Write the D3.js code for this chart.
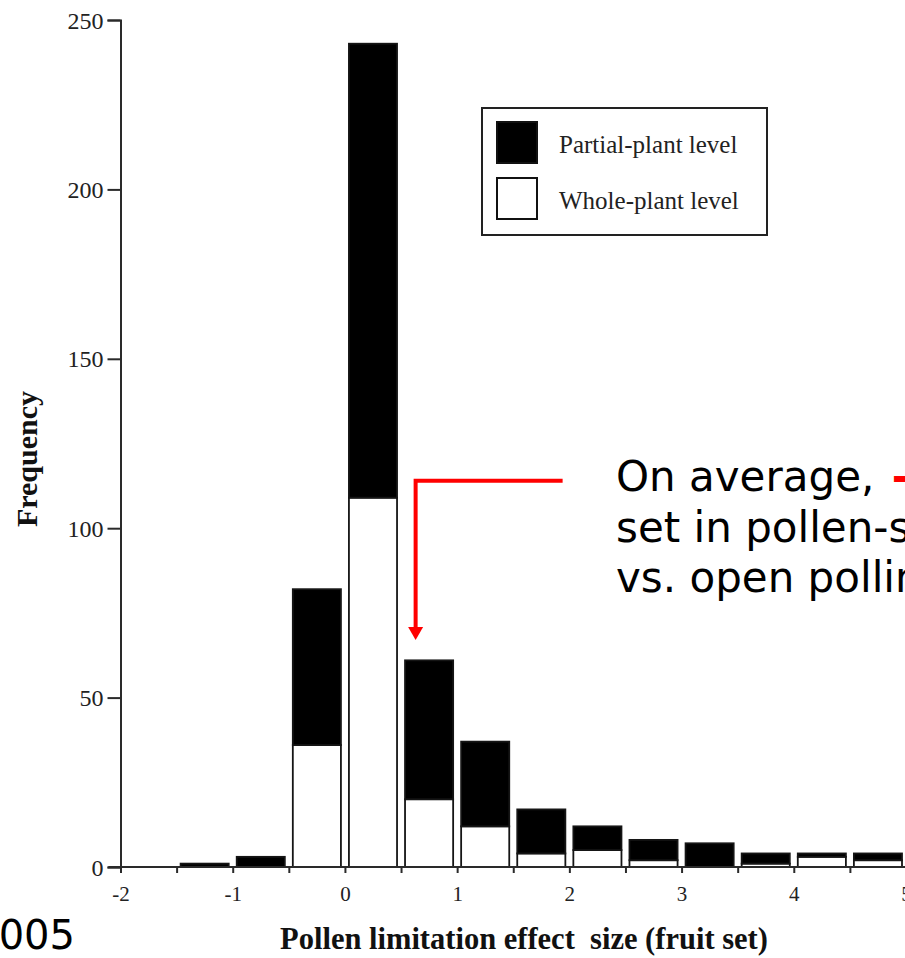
<!DOCTYPE html>
<html>
<head>
<meta charset="utf-8">
<script src="https://cdn.jsdelivr.net/npm/d3@7"></script>
<style>
  html, body { margin: 0; padding: 0; background: #fff; overflow: hidden; }
  svg { display: block; }
</style>
</head>
<body>
<svg id="chart" width="905" height="958"></svg>
<script>
// Lower edge of each 0.5-wide effect-size class
const binStarts = [-1.5, -1, -0.5, 0, 0.5, 1, 1.5, 2, 2.5, 3, 3.5, 4, 4.5];
const binWidth = 0.5;
// Number of studies per class, whole-plant (bottom) and partial-plant (top) level
const wholePlant   = [0, 0, 36, 109, 20, 12, 4, 5, 2, 0, 1, 3, 2];
const partialPlant = [1, 3, 46, 134, 41, 25, 13, 7, 6, 7, 3, 1, 2];
const seriesKeys   = ["whole", "partial"];
const seriesLabels = ["Whole-plant level", "Partial-plant level"];
const seriesFills  = ["#ffffff", "#000000"];

// Axis ticks
const xTickValues = [-2, -1.5, -1, -0.5, 0, 0.5, 1, 1.5, 2, 2.5, 3, 3.5, 4, 4.5, 5];
const xTickLabels = [-2, -1, 0, 1, 2, 3, 4, 5];
const yTickValues = [0, 50, 100, 150, 200, 250];

// Mean-effect call-out: elbow arrow path in data units (effect size, frequency)
const arrowPoints = [[1.94, 114], [0.63, 114], [0.63, 67]];
const noteLines = ["On average, ", "set in pollen-s", "vs. open pollin"];
const noteAccent = "-";

const svg = d3.select("#chart");
const W = 905, H = 958;

const x = d3.scaleLinear().domain([-2, 5]).range([120.5, 906]);
const y = d3.scaleLinear().domain([0, 250]).range([867, 20]);

const rows = binStarts.map((s, i) => ({ start: s, whole: wholePlant[i], partial: partialPlant[i] }));
const stacked = d3.stack().keys(seriesKeys)(rows);

const serif = "'Liberation Serif', 'Times New Roman', serif";
const sans = "'DejaVu Sans', Verdana, sans-serif";
const axisColor = "#2a2a2a";

// Bars: whole-plant counts at the base, partial-plant counts stacked above
const inset = 4;
svg.append("g").selectAll("g")
  .data(stacked)
  .join("g")
  .attr("fill", (d, i) => seriesFills[i])
  .selectAll("rect")
  .data(d => d.filter(p => p[1] - p[0] > 0))
  .join("rect")
  .attr("x", d => x(d.data.start) + inset)
  .attr("width", d => x(d.data.start + binWidth) - x(d.data.start) - 2 * inset)
  .attr("y", d => y(d[1]))
  .attr("height", d => y(d[0]) - y(d[1]))
  .attr("stroke", "#151515")
  .attr("stroke-width", 1.8);

// X axis
const xAxis = svg.append("g")
  .attr("transform", `translate(0,${y(0)})`)
  .call(d3.axisBottom(x)
    .tickValues(xTickValues)
    .tickSize(6)
    .tickPadding(13)
    .tickFormat(d => xTickLabels.includes(d) ? String(d) : ""));
xAxis.select(".domain").remove();
xAxis.append("line")
  .attr("x1", x(-2) - 12).attr("x2", W + 2)
  .attr("stroke", axisColor).attr("stroke-width", 2);
xAxis.selectAll(".tick line").attr("stroke", axisColor).attr("stroke-width", 2);
xAxis.selectAll(".tick text")
  .attr("fill", "#222")
  .style("font-family", serif)
  .style("font-size", "21px");

// Y axis
const yAxis = svg.append("g")
  .attr("transform", `translate(${x(-2)},0)`)
  .call(d3.axisLeft(y)
    .tickValues(yTickValues)
    .tickSize(13)
    .tickPadding(4)
    .tickFormat(d => String(d)));
yAxis.select(".domain").attr("stroke", axisColor).attr("stroke-width", 2);
yAxis.selectAll(".tick line").attr("stroke", axisColor).attr("stroke-width", 2);
yAxis.selectAll(".tick text")
  .attr("fill", "#222")
  .attr("dy", "0.34em")
  .style("font-family", serif)
  .style("font-size", "24px");

// Axis titles
svg.append("text")
  .attr("transform", `translate(37,459) rotate(-90)`)
  .attr("text-anchor", "middle")
  .style("font-family", serif)
  .style("font-weight", "bold")
  .style("font-size", "30px")
  .attr("fill", "#111")
  .text("Frequency");

svg.append("text")
  .attr("x", 524).attr("y", 949)
  .attr("text-anchor", "middle")
  .style("font-family", serif)
  .style("font-weight", "bold")
  .style("font-size", "30.5px")
  .style("white-space", "pre")
  .attr("fill", "#111")
  .text("Pollen limitation effect  size (fruit set)");

// Legend (partial-plant listed first)
const legend = svg.append("g").attr("transform", "translate(482,108)");
legend.append("rect")
  .attr("width", 285).attr("height", 127)
  .attr("fill", "#fff").attr("stroke", "#222").attr("stroke-width", 2);
[1, 0].forEach((k, row) => {
  const g = legend.append("g").attr("transform", `translate(15,${14 + row * 56})`);
  g.append("rect")
    .attr("width", 40).attr("height", 41)
    .attr("fill", seriesFills[k]).attr("stroke", "#111").attr("stroke-width", 2);
  g.append("text")
    .attr("x", 62).attr("y", 31)
    .style("font-family", serif)
    .style("font-size", "25px")
    .attr("fill", "#222")
    .text(seriesLabels[k]);
});

// Red elbow arrow pointing at the mean effect
const red = "#ff0000";
const tip = arrowPoints[arrowPoints.length - 1];
svg.append("path")
  .attr("d", d3.line()(arrowPoints.map((p, i) => [x(p[0]), y(p[1]) - (i === arrowPoints.length - 1 ? 12 : 0)])))
  .attr("fill", "none")
  .attr("stroke", red)
  .attr("stroke-width", 4);
svg.append("path")
  .attr("d", `M${x(tip[0]) - 7.5},${y(tip[1]) - 13} L${x(tip[0]) + 7.5},${y(tip[1]) - 13} L${x(tip[0])},${y(tip[1])} Z`)
  .attr("fill", red);

// Call-out text
const note = svg.append("text")
  .style("font-family", sans)
  .style("font-size", "42px")
  .attr("fill", "#000");
noteLines.forEach((line, i) => {
  note.append("tspan")
    .attr("x", 616).attr("y", 491 + i * 50.5)
    .style("white-space", "pre")
    .text(line);
  if (i === 0) {
    note.append("tspan")
      .attr("dx", 4)
      .attr("fill", red)
      .style("font-weight", "bold")
      .text(noteAccent);
  }
});

// Citation year at lower left
svg.append("text")
  .attr("x", 75).attr("y", 949)
  .attr("text-anchor", "end")
  .style("font-family", sans)
  .style("font-size", "40px")
  .attr("fill", "#000")
  .text("2005");
</script>
</body>
</html>
